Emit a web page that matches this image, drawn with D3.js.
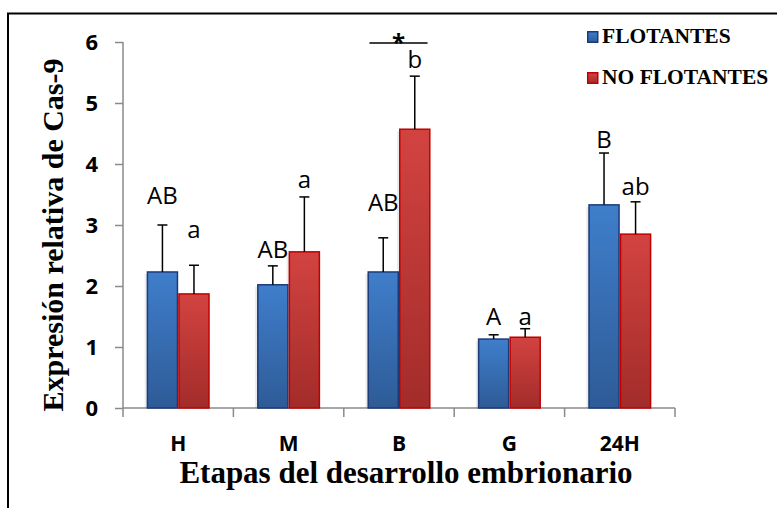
<!DOCTYPE html>
<html>
<head>
<meta charset="utf-8">
<script src="https://cdn.jsdelivr.net/npm/d3@7"></script>
<style>
  body { margin: 0; background: #fff; }
  svg { display: block; }
</style>
</head>
<body>
<div class="chart"></div>
<script>
// data
const categories = ['H', 'M', 'B', 'G', '24H'];
const seriesNames = ['FLOTANTES', 'NO FLOTANTES'];
const flotantes = [2.23, 2.02, 2.23, 1.13, 3.33];
const noFlotantes = [1.87, 2.56, 4.57, 1.16, 2.85];
const errFlotantes = [0.77, 0.31, 0.56, 0.07, 0.85];
const errNoFlotantes = [0.47, 0.90, 0.87, 0.14, 0.53];
const lettersFlotantes = ['AB', 'AB', 'AB', 'A', 'B'];
const lettersNoFlotantes = ['a', 'a', 'b', 'a', 'ab'];
// letter baselines, in axis units
const letterYFlotantes = [3.34, 2.46, 3.23, 1.36, 4.26];
const letterYNoFlotantes = [2.79, 3.61, 5.57, 1.36, 3.49];
const yTicks = [0, 1, 2, 3, 4, 5, 6];

const W = 777, H = 508;
const margin = {top: 42, right: 102, bottom: 100, left: 123};
const width = W - margin.left - margin.right;
const height = H - margin.top - margin.bottom;

const svg = d3.select('.chart')
  .append('svg')
  .attr('width', W)
  .attr('height', H);

const defs = svg.append('defs');
function grad(id, top, bottom) {
  const g = defs.append('linearGradient')
    .attr('id', id).attr('x1', 0).attr('y1', 0).attr('x2', 0).attr('y2', 1);
  g.append('stop').attr('offset', '0%').attr('stop-color', top);
  g.append('stop').attr('offset', '100%').attr('stop-color', bottom);
}
grad('gBlue', '#3F7ECB', '#2E5B97');
grad('gRed', '#D24340', '#A22C2A');

// frame
svg.append('rect')
  .attr('x', 8).attr('y', 13.5)
  .attr('width', W + 10).attr('height', H + 10)
  .attr('fill', 'none')
  .attr('stroke', '#000')
  .attr('stroke-width', 2);

const g = svg.append('g')
  .attr('transform', 'translate(' + margin.left + ', ' + margin.top + ')');

const yScale = d3.scaleLinear().domain([0, 6]).range([height, 0]);
const xScale = d3.scaleBand().domain(categories).range([0, width]);
const xSub = d3.scaleBand().domain(seriesNames)
  .range([0, xScale.bandwidth()]).paddingOuter(0.75).paddingInner(0);

// y axis
const yAxis = d3.axisLeft(yScale).tickValues(yTicks).tickFormat(d3.format('d'))
  .tickSize(8).tickPadding(17);
const yG = g.append('g').call(yAxis);
yG.select('.domain').attr('stroke', '#8a8a8a').attr('stroke-width', 1.5)
  .attr('d', 'M0,' + height + 'V0');
yG.selectAll('.tick line').attr('stroke', '#8a8a8a').attr('stroke-width', 1.5);
yG.selectAll('.tick text')
  .attr('font-family', '"Open Sans", sans-serif')
  .attr('font-weight', 'bold')
  .attr('font-size', 22)
  .attr('fill', '#000');

// x axis
const xAxis = d3.axisBottom(xScale).tickSize(0).tickPadding(28);
const xG = g.append('g').attr('transform', `translate(0, ${height})`).call(xAxis);
xG.select('.domain').attr('stroke', '#8a8a8a').attr('stroke-width', 1.5)
  .attr('d', 'M0,0H' + width);
xG.selectAll('.tick text')
  .attr('font-family', '"Open Sans", sans-serif')
  .attr('font-weight', 'bold')
  .attr('font-size', 21)
  .attr('fill', '#000');
// category separators
xG.selectAll('.sep')
  .data(d3.range(categories.length + 1))
  .enter()
  .append('line')
  .attr('x1', i => i * xScale.bandwidth())
  .attr('x2', i => i * xScale.bandwidth())
  .attr('y1', 0).attr('y2', 9)
  .attr('stroke', '#8a8a8a').attr('stroke-width', 1.5);

const rows = categories.map((c, i) => [
  {cat: c, s: seriesNames[0], v: flotantes[i], e: errFlotantes[i], l: lettersFlotantes[i], ly: letterYFlotantes[i]},
  {cat: c, s: seriesNames[1], v: noFlotantes[i], e: errNoFlotantes[i], l: lettersNoFlotantes[i], ly: letterYNoFlotantes[i]}
]).flat();

const fillOf = s => s === seriesNames[0] ? 'url(#gBlue)' : 'url(#gRed)';
const strokeOf = s => s === seriesNames[0] ? '#1C3A78' : '#C00000';
const cx = d => xScale(d.cat) + xSub(d.s) + xSub.bandwidth() / 2;

// bar shadows
g.selectAll('rect.shadow')
  .data(rows)
  .enter()
  .append('rect')
  .attr('class', 'shadow')
  .attr('x', d => xScale(d.cat) + xSub(d.s) - 2)
  .attr('y', d => yScale(d.v) + 2)
  .attr('width', xSub.bandwidth())
  .attr('height', d => height - yScale(d.v) - 2)
  .attr('fill', '#000')
  .attr('opacity', 0.08);

g.selectAll('rect.bar')
  .data(rows)
  .enter()
  .append('rect')
  .attr('class', 'bar')
  .attr('x', d => xScale(d.cat) + xSub(d.s) + 0.75)
  .attr('y', d => yScale(d.v))
  .attr('width', xSub.bandwidth() - 1.5)
  .attr('height', d => height - yScale(d.v))
  .attr('fill', d => fillOf(d.s))
  .attr('stroke', d => strokeOf(d.s))
  .attr('stroke-width', 1.5);

// upper error bars
const errs = g.selectAll('g.err').data(rows).enter().append('g').attr('class', 'err');
errs.append('line')
  .attr('x1', cx).attr('x2', cx)
  .attr('y1', d => yScale(d.v)).attr('y2', d => yScale(d.v + d.e))
  .attr('stroke', '#000').attr('stroke-width', 1.5);
errs.append('line')
  .attr('x1', d => cx(d) - 5).attr('x2', d => cx(d) + 5)
  .attr('y1', d => yScale(d.v + d.e)).attr('y2', d => yScale(d.v + d.e))
  .attr('stroke', '#000').attr('stroke-width', 1.5);

// significance letters
g.selectAll('text.letter')
  .data(rows)
  .enter()
  .append('text')
  .attr('class', 'letter')
  .attr('x', cx)
  .attr('y', d => yScale(d.ly))
  .attr('text-anchor', 'middle')
  .attr('font-family', '"Open Sans", sans-serif')
  .attr('font-size', 24)
  .attr('fill', '#000')
  .text(d => d.l);

// asterisk over B
const bStart = xScale('B') + xSub(seriesNames[0]) + 2;
const bEnd = xScale('B') + xSub(seriesNames[1]) + xSub.bandwidth() - 3;
g.append('line')
  .attr('x1', bStart).attr('x2', bEnd)
  .attr('y1', yScale(6) + 1).attr('y2', yScale(6) + 1)
  .attr('stroke', '#000').attr('stroke-width', 1.5);
g.append('text')
  .attr('x', (bStart + bEnd) / 2)
  .attr('y', yScale(6) + 9)
  .attr('text-anchor', 'middle')
  .attr('font-family', '"Open Sans", sans-serif')
  .attr('font-weight', 'bold')
  .attr('font-size', 24)
  .text('*');

// legend
const legend = svg.append('g').attr('transform', 'translate(587, 31)');
const li = legend.selectAll('g').data(seriesNames).enter().append('g')
  .attr('transform', (d, i) => `translate(0, ${i * 41})`);
li.append('rect')
  .attr('x', 0.75).attr('y', 0.75).attr('width', 10).attr('height', 10.5)
  .attr('fill', d => fillOf(d))
  .attr('stroke', d => strokeOf(d))
  .attr('stroke-width', 1.5);
li.append('text')
  .attr('x', 15).attr('y', 12)
  .attr('font-family', '"Liberation Serif", "Times New Roman", serif')
  .attr('font-weight', 'bold')
  .attr('font-size', 21.5)
  .text(d => d);

// axis titles
svg.append('text')
  .attr('transform', 'translate(63, 235) rotate(-90)')
  .attr('text-anchor', 'middle')
  .attr('font-family', '"Liberation Serif", "Times New Roman", serif')
  .attr('font-weight', 'bold')
  .attr('font-size', 30)
  .text('Expresión relativa de Cas-9');

svg.append('text')
  .attr('x', 406).attr('y', 483)
  .attr('text-anchor', 'middle')
  .attr('font-family', '"Liberation Serif", "Times New Roman", serif')
  .attr('font-weight', 'bold')
  .attr('font-size', 31)
  .text('Etapas del desarrollo embrionario');
</script>
</body>
</html>
